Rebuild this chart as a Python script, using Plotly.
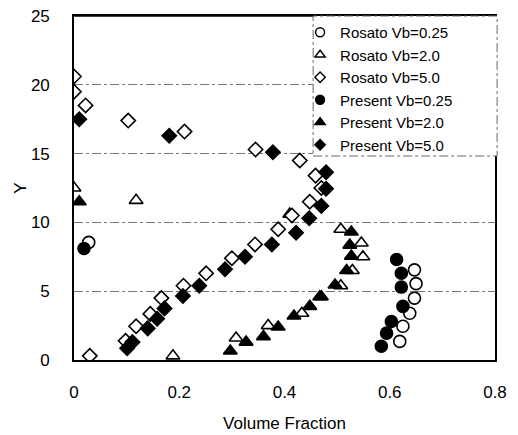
import plotly.graph_objects as go

# ---- data ----
ros025_x = [0.028, 0.647, 0.650, 0.647, 0.638, 0.625, 0.619]
ros025_y = [8.55, 6.55, 5.55, 4.5, 3.4, 2.45, 1.35]

ros20_x = [0.188, 0.308, 0.369, 0.433, 0.470, 0.507, 0.529, 0.549, 0.546, 0.507, 0.410, 0.118, 0.0]
ros20_y = [0.3, 1.6, 2.5, 3.4, 4.6, 5.4, 6.5, 7.5, 8.5, 9.5, 10.6, 11.6, 12.5]

ros50_x = [0.030, 0.098, 0.118, 0.145, 0.166, 0.208, 0.251, 0.300, 0.344, 0.388, 0.414, 0.448,
           0.470, 0.459, 0.429, 0.345, 0.210, 0.103, 0.022, 0.0, 0.0]
ros50_y = [0.3, 1.4, 2.45, 3.35, 4.5, 5.4, 6.3, 7.4, 8.4, 9.5, 10.5, 11.5,
           12.5, 13.4, 14.5, 15.3, 16.6, 17.4, 18.5, 19.5, 20.6]

pre025_x = [0.019, 0.613, 0.622, 0.622, 0.625, 0.603, 0.594, 0.584]
pre025_y = [8.1, 7.3, 6.3, 5.3, 3.9, 2.8, 1.95, 1.0]

pre20_x = [0.297, 0.327, 0.360, 0.388, 0.418, 0.448, 0.467, 0.496, 0.518, 0.527, 0.524, 0.527, 0.010]
pre20_y = [0.65, 1.3, 1.7, 2.4, 3.2, 3.9, 4.6, 5.45, 6.5, 7.55, 8.35, 9.3, 11.5]

pre50_x = [0.101, 0.111, 0.140, 0.158, 0.172, 0.207, 0.238, 0.287, 0.325, 0.376, 0.422, 0.447,
           0.470, 0.479, 0.479, 0.378, 0.181, 0.010]
pre50_y = [0.85, 1.3, 2.3, 3.0, 3.75, 4.65, 5.4, 6.6, 7.5, 8.4, 9.25, 10.3,
           11.2, 12.45, 13.65, 15.1, 16.3, 17.5]

x_ticks = [0, 0.2, 0.4, 0.6, 0.8]
x_ticklabels = ["0", "0.2", "0.4", "0.6", "0.8"]
y_ticks = [0, 5, 10, 15, 20, 25]

series = [
    ("Rosato Vb=0.25", ros025_x, ros025_y, "circle", "white", 12, 9),
    ("Rosato Vb=2.0", ros20_x, ros20_y, "triangle-up", "white", 12, 9),
    ("Rosato Vb=5.0", ros50_x, ros50_y, "diamond", "white", 11, 8),
    ("Present Vb=0.25", pre025_x, pre025_y, "circle", "black", 12, 9),
    ("Present Vb=2.0", pre20_x, pre20_y, "triangle-up", "black", 12, 9),
    ("Present Vb=5.0", pre50_x, pre50_y, "diamond", "black", 11, 8),
]

FONT = "Liberation Sans, Arial, sans-serif"

fig = go.Figure()
for name, xs, ys, sym, fill, sz, lsz in series:
    fig.add_trace(go.Scatter(
        x=xs, y=ys, mode="markers", name=name, showlegend=False,
        marker=dict(symbol=sym, size=sz, color=fill,
                    line=dict(color="black", width=1.6)),
    ))
# legend entries with the smaller key symbols of the reference
for name, xs, ys, sym, fill, sz, lsz in series:
    fig.add_trace(go.Scatter(
        x=[None], y=[None], mode="markers", name=name, showlegend=True,
        marker=dict(symbol=sym, size=lsz, color=fill,
                    line=dict(color="black", width=1.4)),
    ))

# top frame line of the plot area
fig.add_shape(type="line", xref="paper", yref="paper",
              x0=0, x1=1, y0=1, y1=1,
              line=dict(color="black", width=1.6), layer="above")
# legend frame (dash-dot border, white fill covering the plot corner)
fig.add_shape(type="rect", xref="paper", yref="paper",
              x0=0.568, x1=1.005, y0=0.593, y1=1.0,
              fillcolor="white", line=dict(color="#666", width=1, dash="dashdot"),
              layer="above")

fig.update_layout(
    width=518, height=435,
    margin=dict(l=74, r=23, t=16, b=75),
    paper_bgcolor="white", plot_bgcolor="white",
    font=dict(family=FONT, size=17, color="black"),
    showlegend=True,
    legend=dict(x=0.537, xanchor="left", y=1.0, yanchor="top",
                bgcolor="rgba(0,0,0,0)", borderwidth=0,
                font=dict(family=FONT, size=15, color="black"),
                tracegroupgap=0),
    xaxis=dict(range=[0, 0.8], tickvals=x_ticks, ticktext=x_ticklabels,
               showgrid=False, zeroline=False, automargin=False,
               showline=True, linecolor="black", linewidth=1.6, mirror="all",
               ticks="", ticklabelstandoff=16,
               title=dict(text="Volume Fraction", standoff=16,
                          font=dict(family=FONT, size=17))),
    yaxis=dict(range=[0, 25], tickvals=y_ticks,
               showgrid=True, gridcolor="#777", gridwidth=1, griddash="dashdot",
               zeroline=False, automargin=False,
               showline=True, linecolor="black", linewidth=1.6, mirror="all",
               ticks="", ticklabelstandoff=19,
               title=dict(text="Y", standoff=0,
                          font=dict(family=FONT, size=17))),
)

fig.write_html("out.html", config={"displayModeBar": False},
               post_script="document.body.style.margin='0';document.body.style.padding='0';")
